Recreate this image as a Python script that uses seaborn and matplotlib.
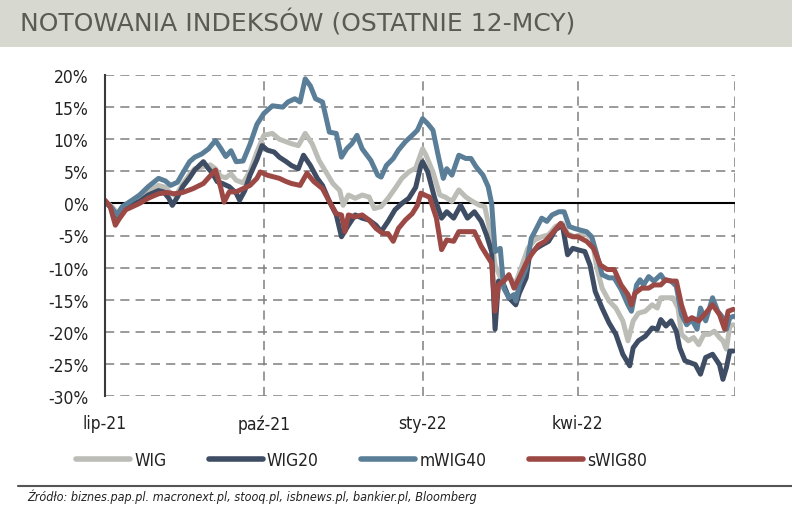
import numpy as np
import pandas as pd
import matplotlib
matplotlib.use("Agg")
import matplotlib.pyplot as plt
import seaborn as sns
from matplotlib.patches import Rectangle
from matplotlib.lines import Line2D
from matplotlib.ticker import FuncFormatter

# ---------------- data (days since 2021-07-01, % change) ----------------
start_date = "2021-07-01"

wig_day = [0, 4, 7, 10, 14, 20, 25, 31, 35, 38, 41, 45, 49, 52, 57, 61, 64, 67, 70, 73, 76, 80, 84, 88, 92,
           97, 101, 105, 108, 112, 116, 120, 124, 128, 132, 136, 138, 141, 145, 149, 153, 156, 160, 164, 168,
           172, 176, 180, 184, 186, 190, 194, 197, 201, 205, 209, 213, 217, 220, 224, 226, 230, 234, 238, 242,
           245, 249, 253, 257, 261, 265, 268, 272, 275, 278, 282, 285, 288, 292, 296, 300, 303, 306, 309, 313,
           317, 320, 322, 326, 329, 332, 334, 338, 341, 344, 347, 350, 353, 356, 358, 360, 362, 364]
wig_val = [0.3, -0.5, -1.5, -0.6, 0, 0.8, 1.8, 2.8, 2.5, 1.6, 1.2, 3, 4.5, 5.4, 5.7, 6, 5.4, 4.2, 4, 4.6, 3.6,
           3.2, 5, 8, 10.6, 10.9, 10, 9.6, 9.3, 9, 10.9, 9.3, 6.7, 4.9, 3.1, 2, -0.3, 1.3, 0.8, 1.3, 1, -0.8,
           -0.5, 0.8, 2.3, 3.9, 4.9, 5.5, 8.5, 7.5, 4.9, 1.3, 1, 0.3, 2.1, 1, 0.3, -0.3, -0.5, -5.4, -9.6,
           -12.1, -11.6, -12.4, -9.3, -7, -5.7, -5.2, -4.9, -3.6, -3.1, -4.7, -5.2, -4.9, -4.7, -5.4, -10.1,
           -13.2, -15.2, -16.3, -18.3, -21.4, -18.3, -17.1, -16.8, -15.8, -16.3, -14.7, -14.7, -14.7, -16.3,
           -20.4, -21.4, -20.9, -22, -20.4, -20.4, -19.9, -20.9, -21.4, -22.7, -19.1, -18.9]

wig20_day = [0, 4, 7, 12, 14, 20, 25, 31, 34, 37, 39, 42, 45, 49, 52, 57, 60, 62, 65, 68, 72, 76, 78, 81, 84,
             88, 91, 94, 98, 101, 105, 108, 112, 115, 119, 123, 126, 130, 134, 137, 141, 145, 149, 153, 157,
             160, 164, 168, 172, 176, 180, 183, 184, 187, 191, 195, 198, 202, 206, 210, 214, 218, 221, 224,
             226, 228, 231, 234, 238, 240, 244, 246, 250, 253, 257, 261, 265, 268, 271, 275, 278, 281, 284,
             288, 292, 296, 300, 304, 306, 309, 313, 317, 320, 322, 325, 328, 331, 333, 336, 339, 342, 345,
             348, 352, 356, 358, 360, 362, 364]
wig20_val = [0.3, -0.8, -2, -0.8, -0.3, 0.3, 1.3, 2, 1.8, 0.8, -0.3, 1, 2.6, 4, 5.2, 6.5, 5.4, 4.8, 3.4, 3.1,
             2.6, 1.6, 0.5, 2, 4.4, 6.8, 9, 8.3, 8, 7.2, 6.5, 5.9, 5.4, 7.5, 5.9, 3.9, 2.8, 0.3, -1.8, -5.2,
             -3.4, -1.8, -2.3, -2.6, -3.4, -4.4, -2.8, -1, 0, 0.8, 2.5, 5.9, 6.5, 4.9, 0.8, -2.3, -1.3, -2.3,
             -0.3, -2.3, -1.3, -2.8, -4.9, -7.5, -19.6, -12.1, -12.7, -14.7, -15.8, -14, -11.6, -8, -7, -6.5,
             -5.9, -4.1, -3.4, -8, -7, -7.3, -7.5, -9.6, -13.7, -16.3, -18.6, -20.4, -23.5, -25.3, -22.5,
             -21.4, -20.7, -19.4, -19.6, -18.1, -19.1, -18.3, -19.9, -22.5, -24.5, -24.8, -25.1, -26.6, -24,
             -23.5, -25.1, -27.4, -25.6, -23, -23]

mwig40_day = [0, 4, 7, 10, 14, 20, 25, 31, 35, 38, 42, 45, 49, 52, 56, 60, 64, 67, 70, 73, 76, 80, 84, 88, 92,
              97, 103, 106, 110, 113, 116, 119, 122, 126, 130, 134, 137, 140, 143, 146, 149, 154, 158, 160, 163,
              167, 170, 174, 178, 181, 184, 187, 190, 193, 196, 198, 201, 205, 209, 212, 215, 219, 222, 224,
              226, 229, 231, 234, 237, 238, 240, 244, 247, 249, 253, 256, 259, 263, 266, 269, 272, 276, 279,
              282, 285, 288, 292, 295, 299, 303, 305, 308, 310, 312, 315, 318, 322, 324, 328, 331, 334, 337,
              340, 343, 345, 348, 352, 355, 358, 360, 362, 364]
mwig40_val = [0.3, -0.8, -1.8, -0.5, 0.2, 1.3, 2.6, 3.9, 3.5, 2.8, 3.3, 4.7, 6.5, 7.2, 7.7, 8.5, 9.8, 8.6, 7.3,
              8.2, 6.5, 6.6, 9.2, 12.3, 14, 15.2, 15, 15.8, 16.3, 15.8, 19.4, 18.3, 16.3, 15.8, 11.1, 10.9, 7.2,
              8.5, 9.3, 10.6, 8.5, 6.7, 4.4, 4.1, 5.9, 7, 8.3, 9.6, 10.6, 11.4, 13.2, 12.4, 11.4, 7.5, 3.9, 5.4,
              4.4, 7.5, 7, 7, 5.7, 4.4, 2.6, 0, -7.5, -7, -13.2, -14.7, -14.2, -15.2, -12.7, -10.1, -5.4, -4.4,
              -2.3, -2.8, -1.8, -1.3, -1.3, -3.6, -3.9, -4.2, -4.4, -5.2, -8, -11.1, -11.6, -11.6, -13.4, -15.8,
              -16.8, -12.7, -11.9, -12.7, -11.4, -12.1, -11.1, -11.9, -12.1, -12.9, -17.3, -18.9, -18.1, -19.6,
              -16.3, -18.3, -14.7, -16.8, -17.8, -19.6, -17.8, -17.6]

swig80_day = [0, 3, 6, 8, 12, 16, 20, 25, 31, 36, 40, 45, 51, 57, 62, 64, 67, 69, 72, 76, 80, 84, 88, 90, 94,
              101, 105, 108, 113, 117, 121, 126, 130, 134, 137, 139, 141, 145, 149, 153, 157, 161, 164, 167,
              170, 174, 178, 181, 183, 186, 188, 192, 195, 198, 202, 205, 210, 214, 218, 221, 224, 226, 228,
              231, 234, 237, 240, 244, 247, 251, 255, 259, 264, 268, 271, 274, 279, 283, 287, 291, 295, 299,
              303, 305, 307, 311, 315, 318, 322, 325, 328, 331, 334, 337, 340, 344, 348, 352, 356, 359, 361, 364]
swig80_val = [0.5, -0.5, -3.4, -2.5, -1, -0.5, 0, 0.8, 1.5, 1.7, 1.5, 1.7, 2.3, 3.1, 4.6, 5.2, 2.5, 0.2, 1.8,
              1.8, 2.3, 2.8, 3.9, 4.9, 4.4, 3.9, 3.4, 3.1, 2.8, 4.7, 3.4, 2.3, 0.3, -1.6, -1.8, -4.4, -1.8, -2.1,
              -1.8, -2.6, -3.9, -4.7, -4.7, -5.9, -3.9, -2.6, -1.6, -0.3, 1.6, 1.2, 1, -2.3, -7.2, -5.7, -5.9,
              -4.4, -4.4, -4.4, -6.7, -8, -9.3, -16.8, -12.7, -12.1, -11.1, -13.2, -11.6, -9.3, -8, -6.5, -5.9,
              -4.7, -3.1, -4.9, -5.2, -5.2, -5.9, -7, -9.6, -10.3, -10.3, -12.7, -14.2, -15.8, -14, -13.2,
              -13.2, -12.7, -12.7, -11.9, -12.1, -12.1, -15.8, -18.3, -17.8, -18.3, -17.1, -15.8, -17.3, -19.6,
              -16.8, -16.5]

series_names = ["WIG", "WIG20", "mWIG40", "sWIG80"]
series_colors = ["#bcbdb6", "#3e4c64", "#5a7e98", "#9c4845"]

tick_dates = ["2021-07-01", "2021-10-01", "2022-01-01", "2022-04-01"]
tick_labels = ["lip-21", "paź-21", "sty-22", "kwi-22"]
end_date = "2022-07-01"

title_text = "NOTOWANIA INDEKSÓW (OSTATNIE 12-MCY)"
source_text = "Źródło: biznes.pap.pl. macronext.pl, stooq.pl, isbnews.pl, bankier.pl, Bloomberg"

# ---------------- build frame ----------------
t0 = pd.Timestamp(start_date)
frames = []
for name, d, v in [("WIG", wig_day, wig_val), ("WIG20", wig20_day, wig20_val),
                   ("mWIG40", mwig40_day, mwig40_val), ("sWIG80", swig80_day, swig80_val)]:
    frames.append(pd.DataFrame({"date": t0 + pd.to_timedelta(d, unit="D"), "value": v, "index": name}))
df = pd.concat(frames, ignore_index=True)

# ---------------- figure ----------------
sns.set_theme(style="white")
plt.rcParams["font.family"] = ["DejaVu Sans"]
W, H = 792, 510
fig = plt.figure(figsize=(W / 100, H / 100), dpi=100)
fig.patch.set_facecolor("white")

# title band
fig.patches.append(Rectangle((0, 1 - 48 / H), 1, 48 / H, transform=fig.transFigure,
                             facecolor="#d7d8d0", edgecolor="none", zorder=0))
fig.text(20 / W, 1 - 23 / H, title_text, fontsize=18, color="#5a5b52", va="center", ha="left")

ax = fig.add_axes([105 / W, 1 - 397 / H, (735 - 105) / W, (397 - 76) / H])
ax.set_facecolor("white")

palette = dict(zip(series_names, series_colors))
sns.lineplot(data=df, x="date", y="value", hue="index", hue_order=series_names, palette=palette,
             estimator=None, sort=True, linewidth=3.6, ax=ax, legend=False)
for ln in ax.lines:
    ln.set_solid_joinstyle("round")
    ln.set_solid_capstyle("round")

ax.set_xlim(pd.Timestamp(start_date), pd.Timestamp(end_date))
ax.set_ylim(-30, 20)
ax.set_yticks(np.arange(-30, 21, 5))
ax.yaxis.set_major_formatter(FuncFormatter(lambda v, p: f"{v:.0f}%"))
ax.set_xticks(pd.to_datetime(tick_dates))
ax.set_xticklabels(tick_labels)
ax.set_xlabel("")
ax.set_ylabel("")

grid_kw = dict(color="#7f7f7f", linewidth=1.1, linestyle=(0, (6, 4)), zorder=0.5)
for yv in np.arange(-30, 21, 5):
    if yv != 0:
        ax.axhline(yv, **grid_kw)
for xd in tick_dates[1:] + [end_date]:
    ax.axvline(pd.Timestamp(xd), **grid_kw)
ax.axhline(0, color="black", linewidth=1.5, zorder=1)

for s in ["top", "right", "bottom"]:
    ax.spines[s].set_visible(False)
ax.spines["left"].set_color("#3a3a3a")
ax.spines["left"].set_linewidth(1.5)

ax.tick_params(axis="y", length=0, pad=12, labelsize=12.5, labelcolor="#222222")
ax.tick_params(axis="x", length=0, pad=13, labelsize=12.5, labelcolor="#222222")
for lab in ax.get_xticklabels() + ax.get_yticklabels():
    lab.set_fontstretch("condensed")

# legend
handles = [Line2D([0], [0], color=c, linewidth=4, solid_capstyle="round") for c in series_colors]
leg = fig.legend(handles, series_names, loc="center left", bbox_to_anchor=(76 / W, 1 - 461 / H),
                 ncol=4, frameon=False, fontsize=12.5, handlelength=3.1, handletextpad=0.25,
                 columnspacing=2.45, borderaxespad=0, borderpad=0)
for t in leg.get_texts():
    t.set_fontstretch("condensed")
    t.set_color("#222222")

# source line and text
fig.add_artist(Line2D([18 / W, 1], [1 - 487 / H, 1 - 487 / H], transform=fig.transFigure,
                      color="#555555", linewidth=1.5))
fig.text(27 / W, 1 - 497 / H, source_text, fontsize=9, style="italic", color="#222222",
         va="center", ha="left", fontstretch="condensed")

fig.savefig("out.png", dpi=100)
